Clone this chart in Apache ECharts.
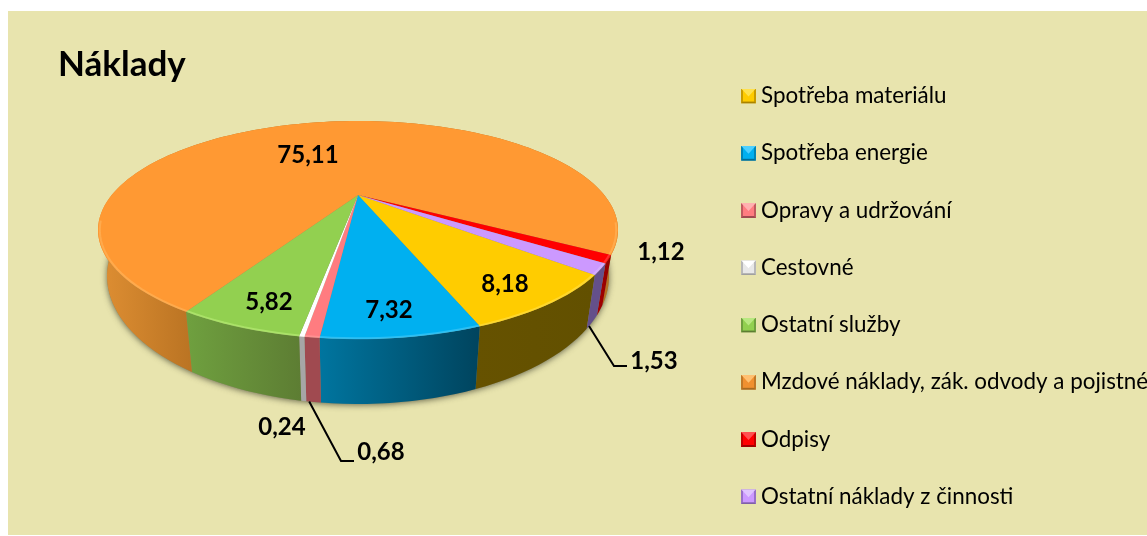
<!DOCTYPE html>
<html>
<head>
<meta charset="utf-8">
<title>Náklady</title>
<style>
  html, body { margin: 0; padding: 0; background: #fff; }
  #chart { width: 1147px; height: 536px; }
</style>
<script src="https://cdn.jsdelivr.net/npm/echarts@6/dist/echarts.min.js"></script>
</head>
<body>
<div id="chart"></div>
<script>
// data, in drawing order (clockwise)
const categories = [
  "Spotřeba materiálu",
  "Spotřeba energie",
  "Opravy a udržování",
  "Cestovné",
  "Ostatní služby",
  "Mzdové náklady, zák. odvody a pojistné",
  "Odpisy",
  "Ostatní náklady z činnosti",
];
const values = [8.18, 7.32, 0.68, 0.24, 5.82, 75.11, 1.12, 1.53];

// styles
const topColors = ["#FFCC00", "#00B0F0", "#FF7C80", "#FFFFFF", "#92D050", "#FF9933", "#FF0000", "#CC99FF"];
const rimColors = ["#FFE050", "#50CCF8", "#FFA0A0", "#FFFFFF", "#BDF07C", "#FFB860", "#FF5050", "#DDBBFF"];
const wallColors = [
  [[0, "#665200"], [1, "#625000"]],
  [[0, "#00759F"], [1, "#00445E"]],
  [[0, "#A04A50"], [1, "#A04A50"]],
  [[0, "#A6A6A6"], [1, "#A6A6A6"]],
  [[0, "#6FA03F"], [1, "#5D7D33"]],
  [[0, "#DF8F33"], [0.19, "#B87222"], [1, "#B87222"]],
  [[0, "#A50000"], [1, "#900000"]],
  [[0, "#64508A"], [1, "#64508A"]],
];
const legendBevel = [
  ["#FFE14D", "#C89B00", "#A88200", "#FFCC00"],
  ["#4DD0FF", "#0085B5", "#006E96", "#00B0F0"],
  ["#FFB0B0", "#C05A60", "#A04A50", "#FF7C80"],
  ["#FFFFFF", "#B8B8B8", "#A0A0A0", "#E8E8E8"],
  ["#B8E880", "#6FA03F", "#5D7D33", "#92D050"],
  ["#FFC070", "#C07828", "#A86A20", "#F09030"],
  ["#FF5050", "#C00000", "#A00000", "#FF0000"],
  ["#E0C4FF", "#9870C8", "#8060A8", "#CC99FF"],
];

// hand placed labels as in the original sheet
const labelAt = [[505, 284], [389, 310], [381, 452], [282, 427], [269, 302], [308, 155], [661, 252], [654, 361]];
const leaderVia = { 2: [[341, 461], [354, 461]], 7: [[614, 366], [627, 366]] };

// pie geometry: perspective disc, the apex sits above the middle of the top ellipse
const topEllipse = { cx: 358, cy: 230, rx: 260, ry: 109 };
const bottomEllipse = { cx: 358, cy: 276, rx: 251, ry: 128 };
const tilt = -0.32;
const startAngle = 49.7;

function rim(ell, deg, k) {
  const t = (deg * Math.PI) / 180;
  const u = Math.sin(t);
  const v = Math.cos(t);
  const d = 1 + tilt * v;
  const s = k === undefined ? 1 : k;
  return [
    ell.cx + ell.rx * s * ((u * Math.sqrt(1 - tilt * tilt)) / d),
    ell.cy + ell.ry * s * ((v + tilt) / d),
  ];
}

const total = values.reduce((a, b) => a + b, 0);
function sliceAngles(i) {
  let before = 0;
  for (let j = 0; j < i; j++) before += values[j];
  const from = startAngle - (before / total) * 360;
  return [from, from - (values[i] / total) * 360];
}

function arc(ell, from, to, k) {
  const n = Math.max(2, Math.ceil(Math.abs(to - from) / 2));
  const pts = [];
  for (let j = 0; j <= n; j++) pts.push(rim(ell, from + ((to - from) * j) / n, k));
  return pts;
}

// the part of the rim that runs along the near side, one run per slice
function nearRuns(pts) {
  const runs = [];
  let run = [];
  pts.forEach((p) => {
    if (p[1] > topEllipse.cy - 10) {
      run.push(p);
    } else if (run.length) {
      runs.push(run);
      run = [];
    }
  });
  if (run.length) runs.push(run);
  return runs.filter((r) => r.length > 1);
}

function renderSlice(i, api) {
  const [from, to] = sliceAngles(i);
  const apex = [topEllipse.cx, topEllipse.cy + topEllipse.ry * tilt];
  const topArc = arc(topEllipse, from, to);
  const botArc = arc(bottomEllipse, from, to);
  const children = [
    {
      type: "polygon",
      z2: 1,
      shape: { points: topArc.concat(botArc.slice().reverse()) },
      style: { fill: new echarts.graphic.LinearGradient(0, 0, 1, 0, wallColors[i].map((s) => ({ offset: s[0], color: s[1] }))) },
    },
    {
      type: "polygon",
      z2: 5,
      shape: { points: [apex].concat(topArc) },
      style: { fill: topColors[i] },
    },
  ];
  // bright bevel along the near edge of the top face
  nearRuns(arc(topEllipse, from, to, 0.993)).forEach((run) => {
    children.push({
      type: "polyline",
      z2: 6,
      shape: { points: run },
      style: { fill: null, stroke: rimColors[i], lineWidth: 2, opacity: 0.55 },
    });
  });
  if (leaderVia[i]) {
    children.push({
      type: "polyline",
      z2: 8,
      shape: { points: [rim(bottomEllipse, from + (to - from) * 0.8)].concat(leaderVia[i]) },
      style: { fill: null, stroke: "#000", lineWidth: 2 },
    });
  }
  children.push({
    type: "text",
    z2: 10,
    style: {
      text: api.value(0).toFixed(2).replace(".", ","),
      x: labelAt[i][0],
      y: labelAt[i][1],
      align: "center",
      verticalAlign: "middle",
      font: "bold 24px Lato",
      fill: "#000",
    },
  });
  return { type: "group", children };
}

function legendIcon(c) {
  const svg =
    '<svg xmlns="http://www.w3.org/2000/svg" width="15" height="15">' +
    '<rect width="15" height="15" fill="' + c[1] + '"/>' +
    '<polygon points="0,15 15,15 13,13 2,13" fill="' + c[2] + '"/>' +
    '<polygon points="2,2 13,2 13,13 2,13" fill="' + c[3] + '"/>' +
    '<polygon points="0,0 15,0 13,2 7.5,8 2,2" fill="' + c[0] + '"/>' +
    "</svg>";
  return "image://data:image/svg+xml;charset=utf-8," + encodeURIComponent(svg);
}

const chart = echarts.init(document.getElementById("chart"));

const series = categories.map((name, i) => ({
  name,
  type: "custom",
  coordinateSystem: "none",
  animation: false,
  silent: true,
  data: [values[i]],
  itemStyle: { color: topColors[i] },
  renderItem: (params, api) => renderSlice(i, api),
}));

// soft shadow under the whole disc
series.unshift({
  type: "custom",
  coordinateSystem: "none",
  animation: false,
  silent: true,
  z: 1,
  data: [total],
  renderItem: () => ({
    type: "polygon",
    shape: { points: arc(bottomEllipse, 0, 360) },
    style: { fill: "#8A8A66", shadowBlur: 6, shadowColor: "rgba(70,70,50,0.8)", shadowOffsetY: 1 },
  }),
});

chart.setOption({
  animation: false,
  title: {
    text: "Náklady",
    left: 53,
    top: 42,
    textStyle: { fontFamily: "Lato", fontWeight: "bold", fontSize: 35, color: "#000" },
  },
  graphic: [
    {
      type: "rect",
      z: -1,
      silent: true,
      shape: { x: 8, y: 11, width: 1139, height: 524 },
      style: { fill: "#E8E4AE" },
    },
  ],
  legend: {
    orient: "vertical",
    left: 741,
    top: 85,
    padding: 0,
    itemWidth: 15,
    itemHeight: 15,
    itemGap: 35.25,
    selectedMode: false,
    textStyle: { fontFamily: "Lato", fontSize: 22.4, color: "#000", lineHeight: 21 },
    data: categories.map((name, i) => ({ name, icon: legendIcon(legendBevel[i]) })),
  },
  series,
});
</script>
</body>
</html>
